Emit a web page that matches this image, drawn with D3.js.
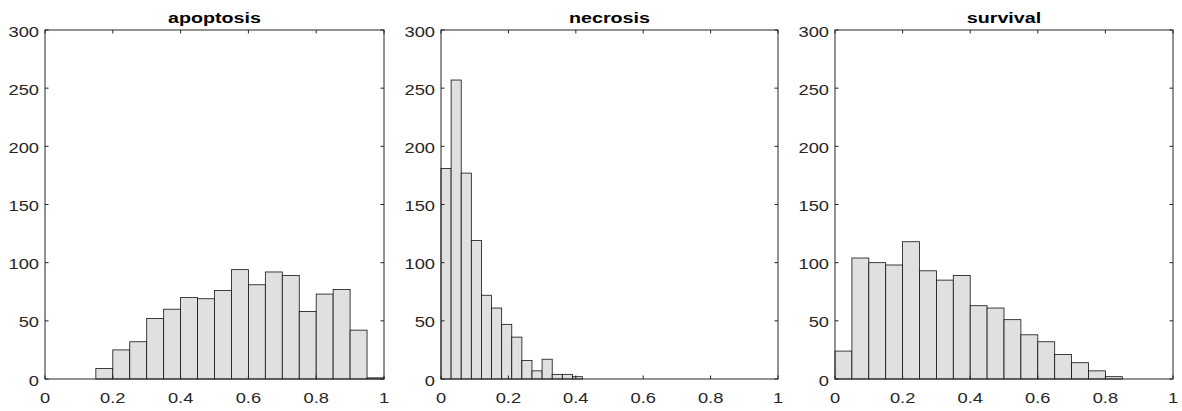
<!DOCTYPE html>
<html>
  <head>
    <script src="https://d3js.org/d3.v7.min.js"></script>
    <style>
      body { margin: 0; background-color: white; }
      text { font-family: "Liberation Sans", Arial, sans-serif; }
    </style>
  </head>
  <body>
    <svg id="canvas" width="1182" height="411"></svg>
    <script>
      // histogram data (bin edges start + width, counts per bin)
      const apoptosisStart = 0.15
      const apoptosisWidth = 0.05
      const apoptosisCounts = [9, 25, 32, 52, 60, 70, 69, 76, 94, 81, 92, 89, 58, 73, 77, 42, 1]

      const necrosisStart = 0
      const necrosisWidth = 0.03
      const necrosisCounts = [181, 257, 177, 119, 72, 61, 47, 36, 16, 7, 17, 4, 4, 2]

      const survivalStart = 0
      const survivalWidth = 0.05
      const survivalCounts = [24, 104, 100, 98, 118, 93, 85, 89, 63, 61, 51, 38, 32, 21, 14, 7, 2]

      const titles = ['apoptosis', 'necrosis', 'survival']
      const xTicks = [0, 0.2, 0.4, 0.6, 0.8, 1]
      const yTicks = [0, 50, 100, 150, 200, 250, 300]

      const panels = [
        { title: titles[0], start: apoptosisStart, w: apoptosisWidth, counts: apoptosisCounts, left: 45, right: 384 },
        { title: titles[1], start: necrosisStart, w: necrosisWidth, counts: necrosisCounts, left: 441, right: 778 },
        { title: titles[2], start: survivalStart, w: survivalWidth, counts: survivalCounts, left: 835, right: 1173 }
      ]

      const plotTop = 30
      const plotBottom = 379
      const axisColor = '#262626'
      const tickLen = 3.5
      // the source image is stretched horizontally, so text is too
      const stretch = 1.22

      let svg = d3.select('#canvas')

      const label = (g, x, y, txt, anchor, size, sx) =>
        g.append('text')
          .attr('transform', `translate(${x}, ${y}) scale(${sx}, 1)`)
          .attr('text-anchor', anchor)
          .attr('font-size', size)
          .attr('fill', axisColor)
          .text(txt)

      panels.forEach(p => {
        let x = d3.scaleLinear().domain([0, 1]).range([p.left, p.right])
        let y = d3.scaleLinear().domain([0, 300]).range([plotBottom, plotTop])
        let g = svg.append('g')

        let bins = p.counts.map((c, i) => ({ x0: p.start + i * p.w, x1: p.start + (i + 1) * p.w, c: c }))

        g.selectAll('rect.bar').data(bins)
          .enter()
          .append('rect')
            .attr('class', 'bar')
            .attr('x', d => x(d.x0))
            .attr('y', d => y(d.c))
            .attr('width', d => x(d.x1) - x(d.x0))
            .attr('height', d => y(0) - y(d.c))
            .attr('fill', '#e0e0e0')
            .attr('stroke', '#111')
            .attr('stroke-width', 0.8)

        // box
        g.append('rect')
          .attr('x', p.left)
          .attr('y', plotTop)
          .attr('width', p.right - p.left)
          .attr('height', plotBottom - plotTop)
          .attr('fill', 'none')
          .attr('stroke', axisColor)
          .attr('stroke-width', 1)

        // x ticks (inward, bottom and top)
        xTicks.forEach(t => {
          g.append('line').attr('x1', x(t)).attr('x2', x(t)).attr('y1', plotBottom).attr('y2', plotBottom - tickLen)
            .attr('stroke', axisColor)
          g.append('line').attr('x1', x(t)).attr('x2', x(t)).attr('y1', plotTop).attr('y2', plotTop + tickLen)
            .attr('stroke', axisColor)
          label(g, x(t), plotBottom + 24, d3.format('~g')(t), 'middle', 15, stretch)
        })

        // y ticks (inward, left and right)
        yTicks.forEach(t => {
          g.append('line').attr('x1', p.left).attr('x2', p.left + tickLen).attr('y1', y(t)).attr('y2', y(t))
            .attr('stroke', axisColor)
          g.append('line').attr('x1', p.right).attr('x2', p.right - tickLen).attr('y1', y(t)).attr('y2', y(t))
            .attr('stroke', axisColor)
          label(g, p.left - 6, y(t) + 6.5, t, 'end', 15, stretch)
        })

        label(g, (p.left + p.right) / 2, 22.5, p.title, 'middle', 15.5, 1.27)
          .attr('font-weight', 'bold')
          .attr('fill', '#000')
      })
    </script>
  </body>
</html>
